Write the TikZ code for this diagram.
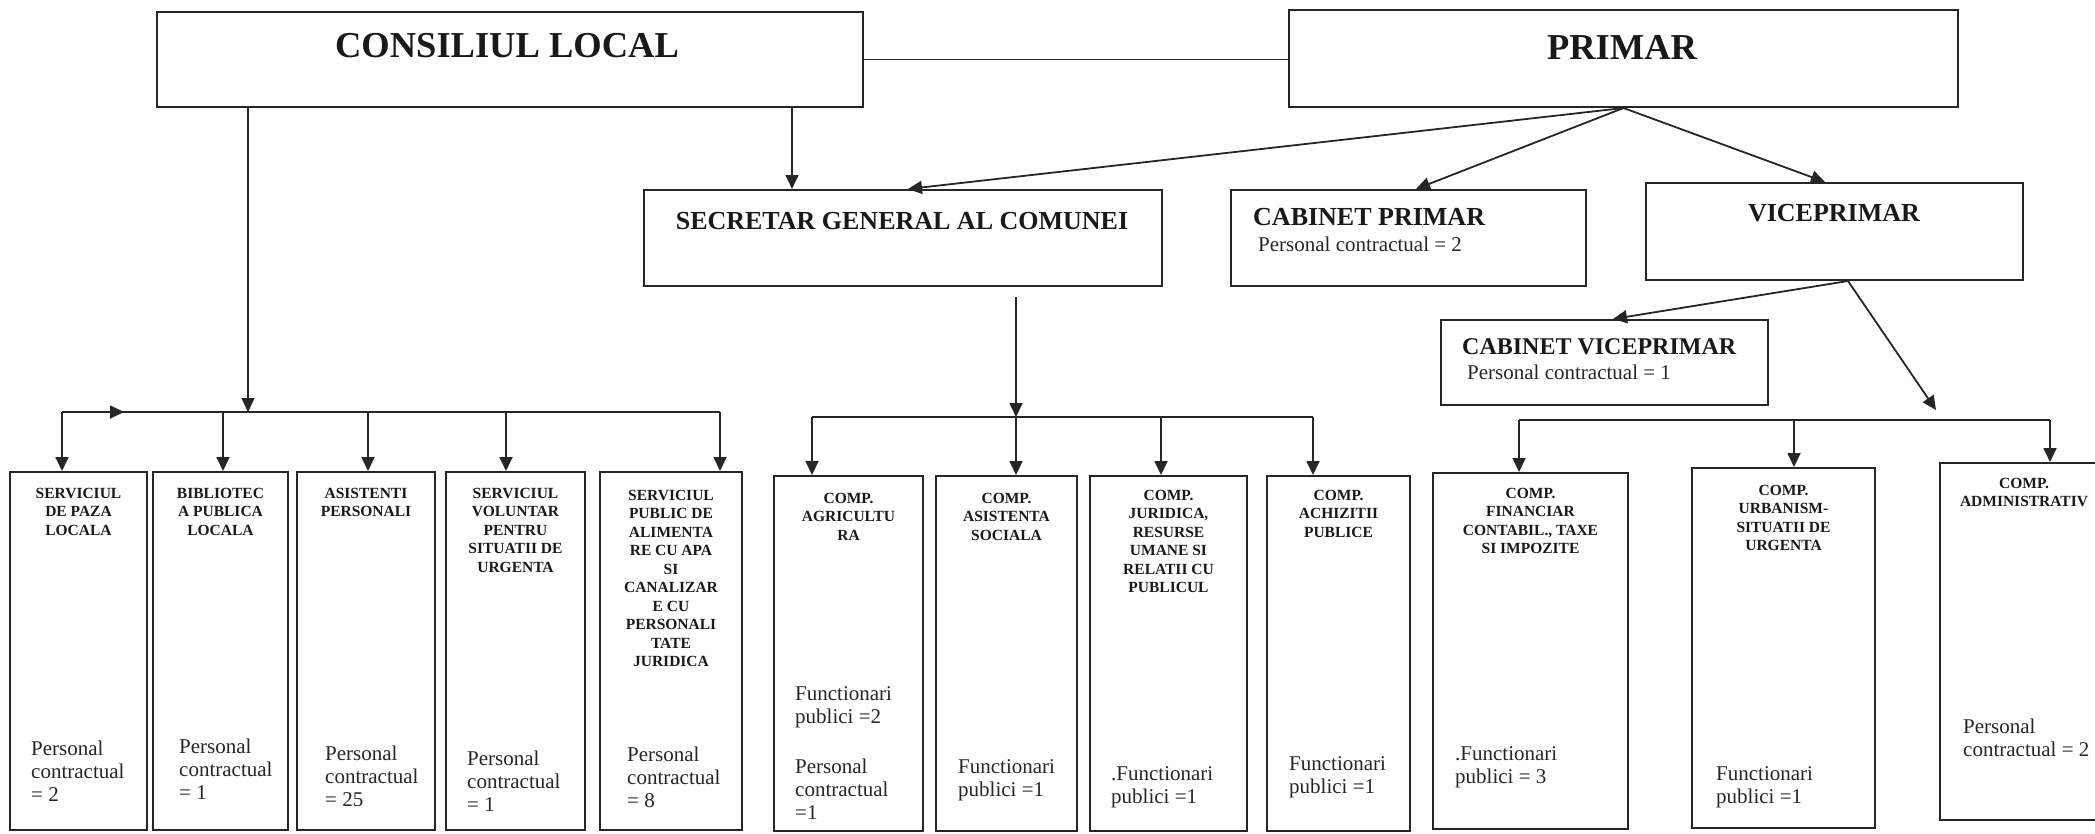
\documentclass[tikz,border=0pt]{standalone}
\usepackage{fontspec}
\setmainfont{Liberation Serif}
\usetikzlibrary{arrows.meta}

\begin{document}
\begin{tikzpicture}[x=1pt, y=-1pt,
  caseta/.style={draw=black!85, line width=2pt, inner sep=0pt},
  linie/.style={draw=black!85, line width=1.8pt},
  sageata/.style={linie, -{Triangle[length=14pt,width=13pt]}},
  antet/.style={inner sep=0pt, text=black!90, font=\bfseries\fontsize{26}{30}\selectfont},
  titlu/.style={anchor=north, align=center, inner sep=0pt, text=black!90, font=\bfseries\fontsize{15.5}{18.5}\selectfont},
  corp/.style={anchor=north west, align=left, inner sep=0pt, text=black!85, font=\fontsize{21}{23}\selectfont}]
\useasboundingbox (0,0) rectangle (2095,833);
\clip (0,0) rectangle (2095,833);

% conducere
\node[caseta, minimum width=706, minimum height=95] (cl) at (510,59.5) {};
\node[caseta, minimum width=669, minimum height=97] (pr) at (1623.5,58.5) {};
\node[caseta, minimum width=518, minimum height=96] (sg) at (903,238) {};
\node[caseta, minimum width=355, minimum height=96] (cp) at (1408.5,238) {};
\node[caseta, minimum width=377, minimum height=97] (vp) at (1834.5,231.5) {};
\node[caseta, minimum width=327, minimum height=85] (cvp) at (1604.5,362.5) {};

\node[antet, font=\bfseries\fontsize{36.5}{40}\selectfont] (tcl) at (507,46) {CONSILIUL LOCAL};
\node[antet, font=\bfseries\fontsize{36.5}{40}\selectfont] (tpr) at (1622,47) {PRIMAR};
\node[antet] (tsg) at (902,221.5) {SECRETAR GENERAL AL COMUNEI};
\node[antet, anchor=west] (tcp) at (1253,217) {CABINET PRIMAR};
\node[corp, anchor=base west] (pcp) at (1258,251) {Personal contractual = 2};
\node[antet] (tvp) at (1834,213) {VICEPRIMAR};
\node[antet, anchor=west, font=\bfseries\fontsize{24}{28}\selectfont] (tcvp) at (1462,347) {CABINET VICEPRIMAR};
\node[corp, anchor=base west] (pcvp) at (1467,379) {Personal contractual = 1};

% compartimente consiliu
\node[caseta, minimum width=137, minimum height=358] (b1) at (78.5,651) {};
\node[caseta, minimum width=135, minimum height=358] (b2) at (220.5,651) {};
\node[caseta, minimum width=138, minimum height=358] (b3) at (366,651) {};
\node[caseta, minimum width=139, minimum height=358] (b4) at (515.5,651) {};
\node[caseta, minimum width=142, minimum height=358] (b5) at (671,651) {};

\node[titlu] (t1) at (78.5,488) {SERVICIUL\\DE PAZA\\LOCALA};
\node[titlu] (t2) at (220.5,488) {BIBLIOTEC\\A PUBLICA\\LOCALA};
\node[titlu] (t3) at (366,488) {ASISTENTI\\PERSONALI};
\node[titlu] (t4) at (515.5,488) {SERVICIUL\\VOLUNTAR\\PENTRU\\SITUATII DE\\URGENTA};
\node[titlu] (t5) at (671,490) {SERVICIUL\\PUBLIC DE\\ALIMENTA\\RE CU APA\\SI\\CANALIZAR\\E CU\\PERSONALI\\TATE\\JURIDICA};

\node[corp] (c1) at (31,741) {Personal\\contractual\\= 2};
\node[corp] (c2) at (179,739) {Personal\\contractual\\= 1};
\node[corp] (c3) at (325,746) {Personal\\contractual\\= 25};
\node[corp] (c4) at (467,751) {Personal\\contractual\\= 1};
\node[corp] (c5) at (627,747) {Personal\\contractual\\= 8};

% compartimente secretar
\node[caseta, minimum width=149, minimum height=355] (m1) at (848.5,653.5) {};
\node[caseta, minimum width=141, minimum height=355] (m2) at (1006.5,653.5) {};
\node[caseta, minimum width=157, minimum height=355] (m3) at (1168.5,653.5) {};
\node[caseta, minimum width=143, minimum height=355] (m4) at (1338.5,653.5) {};

\node[titlu] (t6) at (848.5,493) {COMP.\\AGRICULTU\\RA};
\node[titlu] (t7) at (1006.5,493) {COMP.\\ASISTENTA\\SOCIALA};
\node[titlu] (t8) at (1168.5,490) {COMP.\\JURIDICA,\\RESURSE\\UMANE SI\\RELATII CU\\PUBLICUL};
\node[titlu] (t9) at (1338.5,490) {COMP.\\ACHIZITII\\PUBLICE};

\node[corp] (c6) at (795,686) {Functionari\\publici =2\\[27pt]Personal\\contractual\\=1};
\node[corp] (c7) at (958,759) {Functionari\\publici =1};
\node[corp] (c8) at (1111,766) {.Functionari\\publici =1};
\node[corp] (c9) at (1289,756) {Functionari\\publici =1};

% compartimente viceprimar
\node[caseta, minimum width=195, minimum height=356] (r1) at (1530.5,651) {};
\node[caseta, minimum width=183, minimum height=360] (r2) at (1783.5,648) {};
\node[caseta, minimum width=200, minimum height=357] (r3) at (2040,641.5) {};

\node[titlu] (t10) at (1530.5,488) {COMP.\\FINANCIAR\\CONTABIL., TAXE\\SI IMPOZITE};
\node[titlu] (t11) at (1783.5,485) {COMP.\\URBANISM-\\SITUATII DE\\URGENTA};
\node[titlu] (t12) at (2024,478) {COMP.\\ADMINISTRATIV};

\node[corp] (c10) at (1455,746) {.Functionari\\publici = 3};
\node[corp] (c11) at (1716,766) {Functionari\\publici =1};
\node[corp] (c12) at (1963,719) {Personal\\contractual = 2};

% legaturi sus
\draw[linie] (cl.east) -- (cl.east -| pr.west);
\coordinate (sgin) at ([xshift=-111pt]sg.north);
\draw[sageata, line width=1.4pt] (cl.south -| sgin) -- (sgin);
\draw[sageata] (pr.south) -- ([xshift=5pt]sg.north);
\draw[sageata] (pr.south) -- ([xshift=7.5pt]cp.north);
\draw[sageata] (pr.south) -- ([xshift=-9.5pt]vp.north);
\coordinate (vpout) at ([xshift=13.5pt]vp.south);
\coordinate (rin) at (1936,410);
\draw[sageata] (vpout) -- ([xshift=8.5pt]cvp.north);
\draw[sageata] (vpout) -- (rin);

% bara consiliu
\coordinate (lbus) at (248,412);
\coordinate (lbusA) at (62,412);
\coordinate (lbusB) at (720,412);
\coordinate (lbusT) at (124,412);
\draw[sageata, line width=1.4pt] (cl.south -| lbus) -- (lbus);
\draw[linie] (lbusA) -- (lbusB);
\draw[sageata] (lbusA) -- (lbusT);
\draw[sageata] (lbusA) -- (lbusA |- b1.north);
\draw[sageata] ([xshift=2.5pt]b2.north |- lbus) -- ([xshift=2.5pt]b2.north);
\draw[sageata] ([xshift=2pt]b3.north |- lbus) -- ([xshift=2pt]b3.north);
\draw[sageata] ([xshift=-9.5pt]b4.north |- lbus) -- ([xshift=-9.5pt]b4.north);
\draw[sageata] (lbusB) -- (lbusB |- b5.north);

% bara secretar
\coordinate (sgout) at ([xshift=113pt,yshift=-10pt]sg.south);
\coordinate (mbus) at (1016,417);
\coordinate (mbusA) at (812,417);
\coordinate (mbusB) at (1313,417);
\draw[sageata] (sgout) -- (sgout |- mbus);
\draw[linie] (mbusA) -- (mbusB);
\draw[sageata] (mbusA) -- (mbusA |- m1.north);
\draw[sageata] (mbus) -- (mbus |- m2.north);
\draw[sageata] ([xshift=-7.5pt]m3.north |- mbus) -- ([xshift=-7.5pt]m3.north);
\draw[sageata] (mbusB) -- (mbusB |- m4.north);

% bara viceprimar
\coordinate (rbusA) at (1519,420);
\coordinate (rbusB) at (2050,420);
\draw[linie] (rbusA) -- (rbusB);
\draw[sageata] (rbusA) -- (rbusA |- r1.north);
\draw[sageata] ([xshift=10.5pt]r2.north |- rbusA) -- ([xshift=10.5pt]r2.north);
\draw[sageata] (rbusB) -- (rbusB |- r3.north);
\end{tikzpicture}
\end{document}
